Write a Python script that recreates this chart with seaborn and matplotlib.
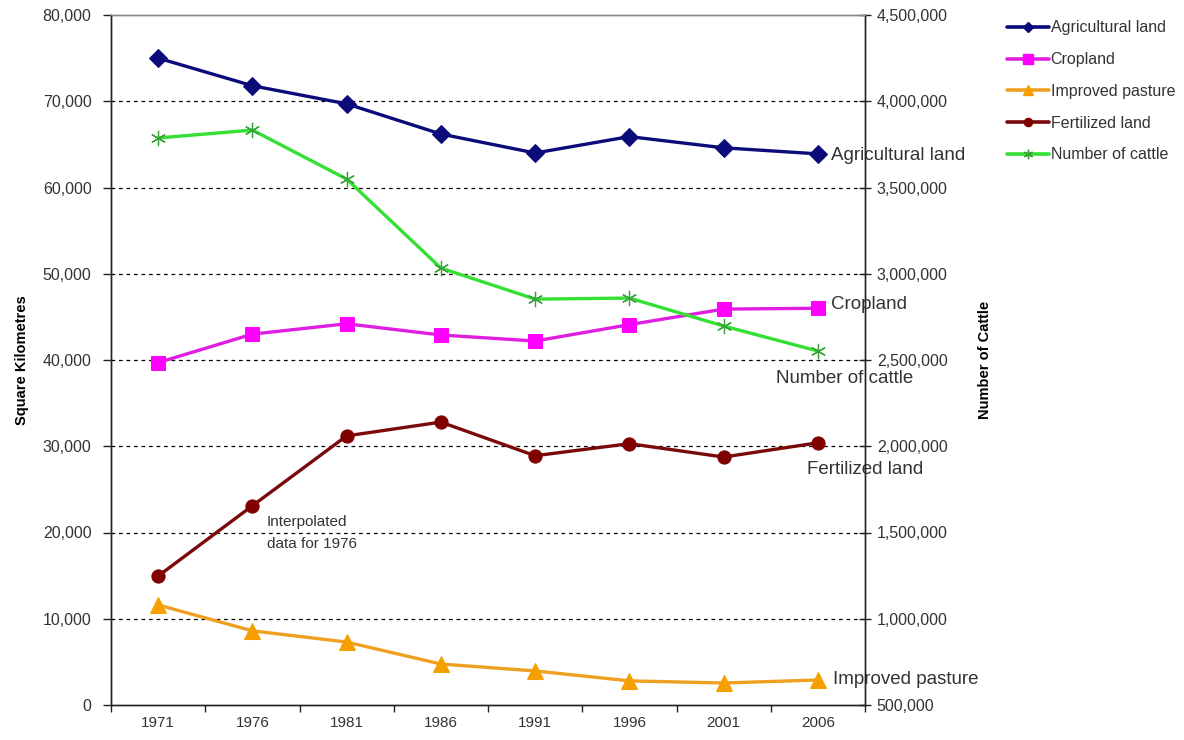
import numpy as np
import pandas as pd
import matplotlib
matplotlib.use("Agg")
import matplotlib.pyplot as plt
from matplotlib.lines import Line2D
import seaborn as sns

# Census years and series values
years = ["1971", "1976", "1981", "1986", "1991", "1996", "2001", "2006"]
agricultural_land = [75000, 71800, 69700, 66200, 64000, 65900, 64600, 63900]
cropland = [39700, 43000, 44200, 42900, 42200, 44100, 45900, 46000]
improved_pasture = [11600, 8600, 7300, 4750, 3950, 2800, 2550, 2900]
fertilized_land = [14950, 23100, 31200, 32800, 28900, 30300, 28750, 30400]
number_of_cattle = [3787000, 3833000, 3549000, 3033000, 2853000, 2859000, 2697000, 2552000]

left_ticks = [0, 10000, 20000, 30000, 40000, 50000, 60000, 70000, 80000]
right_ticks = [500000, 1000000, 1500000, 2000000, 2500000, 3000000, 3500000, 4000000, 4500000]

sns.set_style("ticks")
plt.rcParams["font.family"] = ["Liberation Sans", "DejaVu Sans"]

fig = plt.figure(figsize=(11.84, 7.40), dpi=100)
ax = fig.add_axes([111 / 1184, 1 - 705 / 740, (865 - 111) / 1184, (705 - 15) / 740])
ax2 = ax.twinx()

pos = np.arange(len(years))

styles = {
    "Agricultural land": dict(color="#0b0b7a", marker="D", markersize=9, mfc="#0b0b7a", mec="#0b0b7a"),
    "Cropland": dict(color="#e01ee0", marker="s", markersize=10.5, mfc="#ff00ff", mec="#ff00ff"),
    "Improved pasture": dict(color="#f0a020", marker="^", markersize=12, mfc="#f5a000", mec="#f5a000"),
    "Fertilized land": dict(color="#7a0a0a", marker="o", markersize=9.5, mfc="#800000", mec="#800000"),
    "Number of cattle": dict(color="#33e033", marker=(6, 2, 0), markersize=11, mfc="#3aa03a", mec="#3aa03a"),
}

land_series = {
    "Agricultural land": agricultural_land,
    "Cropland": cropland,
    "Improved pasture": improved_pasture,
    "Fertilized land": fertilized_land,
}

for name, vals in land_series.items():
    st = styles[name]
    df = pd.DataFrame({"pos": pos, "value": vals})
    sns.lineplot(data=df, x="pos", y="value", ax=ax, color=st["color"], linewidth=2.4,
                 marker=st["marker"], markersize=st["markersize"],
                 markerfacecolor=st["mfc"], markeredgecolor=st["mec"], legend=False,
                 zorder=3)

st = styles["Number of cattle"]
df_c = pd.DataFrame({"pos": pos, "value": number_of_cattle})
sns.lineplot(data=df_c, x="pos", y="value", ax=ax2, color=st["color"], linewidth=2.4,
             marker=st["marker"], markersize=st["markersize"], markeredgewidth=0.9,
             markerfacecolor=st["mfc"], markeredgecolor=st["mec"], legend=False, zorder=3)

# Axes ranges and ticks
ax.set_xlim(-0.5, len(years) - 0.5)
ax.set_ylim(left_ticks[0], left_ticks[-1])
ax2.set_ylim(right_ticks[0], right_ticks[-1])

ax.set_xticks(np.arange(-0.5, len(years)), labels=[])
ax.set_xticks(pos, labels=years, minor=True)
ax.tick_params(axis="x", which="major", direction="out", length=5, width=1, color="#222222")
ax.tick_params(axis="x", which="minor", length=0, pad=8, labelsize=11, labelcolor="#333333")

tick_fmt = lambda v: f"{v:,.0f}"
ax.set_yticks(left_ticks, labels=[tick_fmt(v) for v in left_ticks])
ax2.set_yticks(right_ticks, labels=[tick_fmt(v) for v in right_ticks])
ax.tick_params(axis="y", direction="out", length=6, width=1, color="#222222",
               labelsize=11.5, labelcolor="#333333", pad=8)
ax2.tick_params(axis="y", direction="inout", length=9, width=1, color="#222222",
                labelsize=11.5, labelcolor="#333333", pad=4)

ax.set_xlabel("")
ax.set_ylabel("Square Kilometres", fontsize=10.5, fontweight="bold", color="black",
              family=["Liberation Sans Narrow", "Liberation Sans"], labelpad=10)
ax2.set_ylabel("Number of Cattle", fontsize=10.5, fontweight="bold", color="black",
               family=["Liberation Sans Narrow", "Liberation Sans"], labelpad=22)

# Dashed horizontal gridlines on the interior ticks
ax.yaxis.grid(True, linestyle=(0, (3, 3)), color="black", linewidth=0.9)
grid_lines = ax.get_ygridlines()
grid_lines[0].set_visible(False)
grid_lines[-1].set_visible(False)
ax.set_axisbelow(True)

for a in (ax, ax2):
    a.spines["left"].set_color("#222222")
    a.spines["right"].set_color("#222222")
    a.spines["bottom"].set_color("#222222")
    a.spines["top"].set_color("#888888")
    for s in a.spines.values():
        s.set_linewidth(1.0)
    a.patch.set_alpha(0)

# Series labels next to the last points
label_kw = dict(fontsize=13.5, color="#333333", va="center", ha="left")
ax.text(len(years) - 1 + 0.14, agricultural_land[-1] - 150, "Agricultural land", **label_kw)
ax.text(len(years) - 1 + 0.14, cropland[-1] + 450, "Cropland", **label_kw)
ax.text(len(years) - 1 + 0.16, improved_pasture[-1], "Improved pasture", **label_kw)
ax.text(len(years) - 1 - 0.12, fertilized_land[-1] - 3050, "Fertilized land", **label_kw)
ax2.text(len(years) - 1 - 0.44, number_of_cattle[-1] - 160000, "Number of cattle", **label_kw)

# Note on the 1976 fertilized-land value
ax.text(1 + 0.155, fertilized_land[1] - 1100, "Interpolated\ndata for 1976", fontsize=11,
        color="#333333", va="top", ha="left", linespacing=1.75)

# Legend
handles = []
for name in ["Agricultural land", "Cropland", "Improved pasture", "Fertilized land", "Number of cattle"]:
    st = styles[name]
    handles.append(Line2D([], [], color=st["color"], linewidth=2.6, marker=st["marker"],
                          markersize=st["markersize"] * 0.62, markerfacecolor=st["mfc"],
                          markeredgecolor=st["mec"], label=name))
fig.legend(handles=handles, loc="upper left", bbox_to_anchor=(1001 / 1184, 1 - 14 / 740),
           frameon=False, fontsize=11.5, handlelength=2.6, handletextpad=0.1,
           labelspacing=1.05, labelcolor="#333333", borderaxespad=0)

fig.savefig("out.png", dpi=100, facecolor="white")
